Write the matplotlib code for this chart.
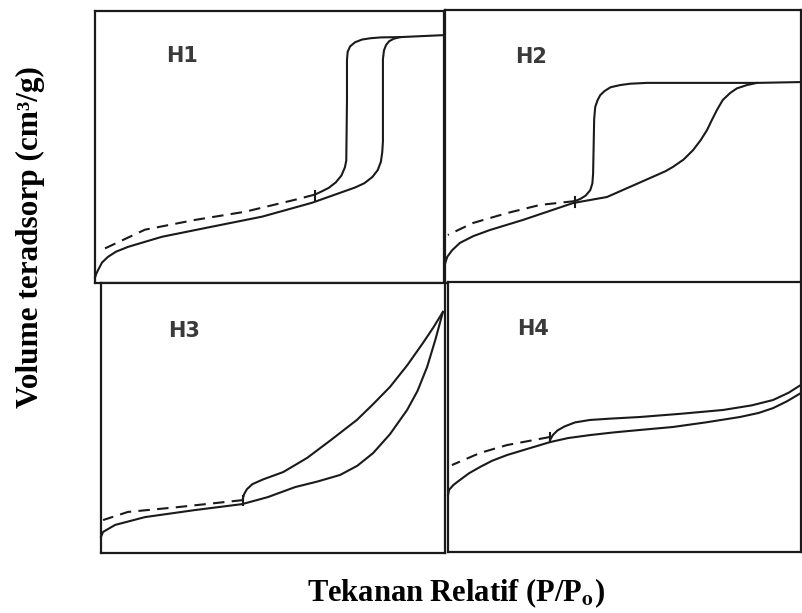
import matplotlib
matplotlib.use("Agg")
import matplotlib.pyplot as plt

# isotherm branches per hysteresis type (relative pressure, relative uptake)
h1_ads_x = [0.0, 0.004, 0.009, 0.02, 0.037, 0.06, 0.095, 0.192, 0.335, 0.479, 0.622, 0.745, 0.772, 0.795,
            0.81, 0.819, 0.823, 0.825, 0.825, 0.828, 0.834, 0.843, 0.856, 0.874, 0.994]
h1_ads_y = [0.02, 0.035, 0.048, 0.075, 0.096, 0.115, 0.133, 0.170, 0.207, 0.244, 0.295, 0.351, 0.367, 0.39,
            0.415, 0.445, 0.48, 0.52, 0.823, 0.855, 0.875, 0.889, 0.898, 0.904, 0.911]
h1_des_x = [0.874, 0.82, 0.79, 0.765, 0.745, 0.731, 0.724, 0.722, 0.722, 0.720, 0.716, 0.706, 0.69, 0.67,
            0.65, 0.63]
h1_des_y = [0.904, 0.903, 0.900, 0.895, 0.885, 0.870, 0.850, 0.820, 0.675, 0.45, 0.425, 0.395, 0.37, 0.35,
            0.337, 0.325]
h1_dash_x = [0.630, 0.573, 0.430, 0.287, 0.143, 0.020]
h1_dash_y = [0.325, 0.306, 0.262, 0.232, 0.196, 0.122]

h2_ads_x = [0.0, 0.006, 0.02, 0.042, 0.08, 0.126, 0.219, 0.360, 0.455, 0.596, 0.62, 0.640, 0.67, 0.697,
            0.718, 0.736, 0.75, 0.764, 0.78, 0.801, 0.82, 0.848, 0.876, 1.0]
h2_ads_y = [0.07, 0.095, 0.12, 0.147, 0.172, 0.194, 0.231, 0.293, 0.315, 0.396, 0.41, 0.425, 0.452, 0.487,
            0.523, 0.560, 0.598, 0.634, 0.67, 0.696, 0.713, 0.725, 0.733, 0.736]
h2_des_x = [0.876, 0.567, 0.52, 0.492, 0.465, 0.448, 0.436, 0.428, 0.422, 0.419, 0.416, 0.414, 0.408,
            0.395, 0.38, 0.365]
h2_des_y = [0.733, 0.733, 0.730, 0.725, 0.717, 0.703, 0.688, 0.668, 0.645, 0.60, 0.40, 0.365, 0.34,
            0.32, 0.308, 0.300]
h2_dash_x = [0.365, 0.267, 0.174, 0.079, 0.008]
h2_dash_y = [0.300, 0.286, 0.256, 0.220, 0.176]

h3_ads_x = [0.0, 0.006, 0.041, 0.128, 0.273, 0.410, 0.485, 0.564, 0.63, 0.695, 0.745, 0.791, 0.84, 0.890,
            0.92, 0.948, 0.972, 0.994]
h3_ads_y = [0.06, 0.078, 0.104, 0.133, 0.159, 0.181, 0.207, 0.244, 0.265, 0.289, 0.323, 0.370, 0.44,
            0.530, 0.60, 0.689, 0.79, 0.893]
h3_des_x = [0.994, 0.966, 0.936, 0.89, 0.840, 0.79, 0.744, 0.67, 0.599, 0.53, 0.47, 0.44, 0.424, 0.416,
            0.413]
h3_des_y = [0.893, 0.835, 0.778, 0.695, 0.615, 0.55, 0.493, 0.42, 0.352, 0.30, 0.272, 0.255, 0.236,
            0.218, 0.204]
h3_dash_x = [0.413, 0.224, 0.078, 0.006]
h3_dash_y = [0.196, 0.170, 0.152, 0.122]

h4_ads_x = [0.0, 0.003, 0.015, 0.034, 0.06, 0.091, 0.125, 0.167, 0.22, 0.289, 0.34, 0.402, 0.47, 0.544,
            0.637, 0.73, 0.827, 0.88, 0.921, 0.96, 1.0]
h4_ads_y = [0.21, 0.230, 0.248, 0.267, 0.292, 0.315, 0.338, 0.359, 0.38, 0.407, 0.422, 0.433, 0.443,
            0.452, 0.463, 0.48, 0.500, 0.515, 0.533, 0.558, 0.589]
h4_des_x = [1.0, 0.965, 0.921, 0.86, 0.779, 0.66, 0.544, 0.46, 0.402, 0.36, 0.33, 0.31, 0.297, 0.289]
h4_des_y = [0.619, 0.59, 0.563, 0.543, 0.526, 0.512, 0.500, 0.494, 0.489, 0.48, 0.465, 0.45, 0.433, 0.415]
h4_dash_x = [0.289, 0.167, 0.091, 0.011]
h4_dash_y = [0.426, 0.396, 0.367, 0.322]

labels = ["H1", "H2", "H3", "H4"]
label_pos = [(0.203, 0.834), (0.197, 0.828), (0.195, 0.822), (0.195, 0.826)]

W, H = 802, 613
fig = plt.figure(figsize=(W / 100, H / 100), dpi=100)
fig.patch.set_facecolor("white")

# panel boxes in pixels: left, right, top, bottom
boxes = [(95, 444, 11, 283), (445, 801, 10, 283),
         (101, 445, 283, 553), (448, 801, 282, 552)]

panels = [
    (h1_ads_x, h1_ads_y, h1_des_x, h1_des_y, h1_dash_x, h1_dash_y),
    (h2_ads_x, h2_ads_y, h2_des_x, h2_des_y, h2_dash_x, h2_dash_y),
    (h3_ads_x, h3_ads_y, h3_des_x, h3_des_y, h3_dash_x, h3_dash_y),
    (h4_ads_x, h4_ads_y, h4_des_x, h4_des_y, h4_dash_x, h4_dash_y),
]

ink = "#1a1a1a"
for (l, r, t, b), data, name, (lx, ly) in zip(boxes, panels, labels, label_pos):
    ax = fig.add_axes([l / W, 1 - b / H, (r - l) / W, (b - t) / H])
    ax.set_xlim(0, 1)
    ax.set_ylim(0, 1)
    ax.set_xticks([])
    ax.set_yticks([])
    for s in ax.spines.values():
        s.set_linewidth(1.6)
        s.set_color(ink)
    ax_x, ax_y, de_x, de_y, da_x, da_y = data
    ax.plot(ax_x, ax_y, color=ink, lw=1.5, solid_joinstyle="round", clip_on=False)
    ax.plot(de_x, de_y, color=ink, lw=1.5, solid_joinstyle="round", clip_on=False)
    ax.plot(da_x, da_y, color=ink, lw=1.5, dashes=(5.5, 3.5))
    # small closure mark where the branches meet
    jx, jy = da_x[0], da_y[0]
    ax.plot([jx, jx], [jy - 0.02, jy + 0.015], color=ink, lw=1.5)
    ax.text(lx, ly, name, transform=ax.transAxes, fontsize=15,
            fontweight="bold", color="#3a3a3a", family="DejaVu Sans",
            va="center", ha="left")

plt.rcParams["mathtext.fontset"] = "stix"
fig.text(30 / W, 1 - 237 / H, "Volume teradsorp (cm³/g)", rotation=90,
         fontsize=22.5, fontweight="bold", family="Liberation Serif",
         ha="center", va="center")
fig.text(456 / W, 1 - 593 / H, r"Tekanan Relatif (P/P$_\mathbf{o}$)",
         fontsize=22, fontweight="bold", family="Liberation Serif",
         ha="center", va="center")

fig.savefig("out.png", dpi=100, facecolor="white")
